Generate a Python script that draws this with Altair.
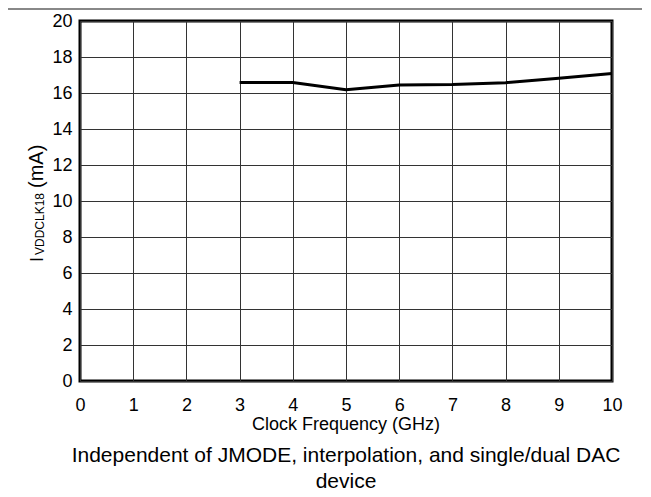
import altair as alt
import pandas as pd

freq_ghz = [3, 4, 5, 6, 7, 8, 9, 10]
current_ma = [16.58, 16.58, 16.18, 16.44, 16.47, 16.57, 16.82, 17.08]
x_ticks = list(range(0, 11))
y_ticks = list(range(0, 21, 2))
x_title = "Clock Frequency (GHz)"
y_title_main = "I"
y_title_sub = "VDDCLK18"
y_title_unit = "(mA)"
note_lines = ["Independent of JMODE, interpolation, and single/dual DAC", "device"]

W, H = 532, 360
FONT = "Liberation Sans"

df = pd.DataFrame({"freq": freq_ghz, "current": current_ma})
one = pd.DataFrame({"k": [0]})

line = alt.Chart(df).mark_line(color="black", strokeWidth=3).encode(
    x=alt.X("freq:Q", scale=alt.Scale(domain=[0, 10], nice=False, zero=False),
            axis=alt.Axis(values=x_ticks, title=None, labelPadding=15, grid=True,
                          labelFlush=False)),
    y=alt.Y("current:Q", scale=alt.Scale(domain=[0, 20], nice=False),
            axis=alt.Axis(values=y_ticks, title=None, labelPadding=8, grid=True,
                          labelFlush=False)),
)


def txt(s, x, y, size, angle=0, align="center"):
    return alt.Chart(one).mark_text(
        text=s, font=FONT, fontSize=size, angle=angle, align=align,
        baseline="alphabetic", color="black"
    ).encode(x=alt.value(x), y=alt.value(y))


top_rule = alt.Chart(one).mark_rule(color="#888888", strokeWidth=2).encode(
    x=alt.value(-72), x2=alt.value(W + 30), y=alt.value(-12)
)

layers = [
    line,
    top_rule,
    txt(x_title, W / 2, 409, 18),
    txt(note_lines[0], W / 2, 441, 21),
    txt(note_lines[1], W / 2, 467, 21),
    txt(y_title_main, -37, 241, 18, angle=270, align="left"),
    txt(y_title_sub, -36, 234, 12, angle=270, align="left"),
    txt(y_title_unit, -37, 167, 20, angle=270, align="left"),
]

chart = alt.layer(*layers).properties(
    width=W, height=H,
    autosize=alt.AutoSizeParams(type="none"),
    padding={"left": 72, "top": 13, "right": 30, "bottom": 115},
).configure_view(
    stroke="black", strokeWidth=3
).configure_axis(
    labelFont=FONT, labelFontSize=18, labelColor="black",
    gridColor="#333333", gridWidth=1, gridOpacity=1,
    domain=False, ticks=True, tickSize=0,
)

chart.save("out.html", embed_options={"renderer": "svg", "actions": False})
